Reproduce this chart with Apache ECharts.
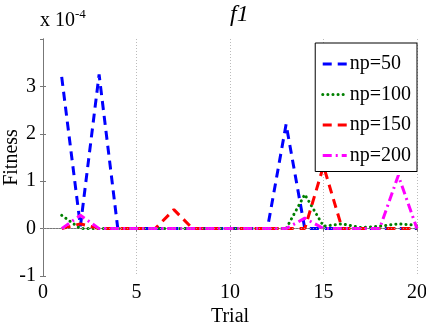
<!DOCTYPE html>
<html>
<head>
<meta charset="utf-8">
<script src="https://cdn.jsdelivr.net/npm/echarts@6/dist/echarts.min.js"></script>
<style>
    html, body { margin: 0; padding: 0; background: #fff; }
    #chart { width: 426px; height: 325px; }
</style>
</head>
<body>
<div id="chart"></div>
<script>
    // trials 1..20, fitness values in units of 1e-4
    var trials = [1, 2, 3, 4, 5, 6, 7, 8, 9, 10, 11, 12, 13, 14, 15, 16, 17, 18, 19, 20];
    var np50 = [3.2, 0.05, 3.25, 0, 0, 0, 0, 0, 0, 0, 0, 0, 2.2, 0, 0, 0, 0, 0, 0, 0];
    var np100 = [0.28, 0, 0, 0, 0, 0, 0, 0, 0, 0, 0, 0, 0, 0.72, 0.05, 0.1, 0.02, 0.05, 0.1, 0.07];
    var np150 = [0, 0.1, 0, 0, 0, 0, 0.4, 0, 0, 0, 0, 0, 0, 0, 1.32, 0, 0, 0, 0, 0];
    var np200 = [0, 0.28, 0, 0, 0, 0, 0, 0, 0, 0, 0, 0, 0, 0.22, 0, 0, 0, 0, 1.12, 0];
    var names = ['np=50', 'np=100', 'np=150', 'np=200'];
    var xTicks = [0, 5, 10, 15, 20];
    var yTicks = [-1, 0, 1, 2, 3];

    var serif = 'Liberation Serif';

    function pairs(vals) {
        return trials.map(function (t, i) { return [t, vals[i]]; });
    }

    function makeSeries(name, vals, color, dash, cap) {
        return {
            name: name,
            type: 'line',
            data: pairs(vals),
            symbol: 'none',
            lineStyle: { color: color, width: 3, type: dash, cap: cap || 'butt' },
            itemStyle: { color: color }
        };
    }

    var chart = echarts.init(document.getElementById('chart'));
    var series = [
        makeSeries(names[0], np50, '#0000ff', [9, 6]),
        makeSeries(names[1], np100, '#008000', [0.1, 5], 'round'),
        makeSeries(names[2], np150, '#ff0000', [9, 6]),
        makeSeries(names[3], np200, '#ff00ff', [9, 4, 2, 4])
    ];
    // zero reference line
    series[0].markLine = {
        silent: true,
        symbol: 'none',
        label: { show: false },
        lineStyle: { color: '#999', width: 1, type: [1, 2] },
        data: [{ yAxis: 0 }]
    };

    var axisBase = {
        axisLine: { show: true, lineStyle: { color: '#777', width: 1 } },
        axisTick: { show: true, inside: true, length: 3, lineStyle: { color: '#777' } },
        axisLabel: { color: '#000', fontFamily: serif, fontSize: 20 }
    };

    chart.setOption({
        animation: false,
        backgroundColor: '#fff',
        grid: { left: 43, right: 9, top: 39, bottom: 49, outerBoundsMode: 'none', containLabel: false },
        title: {
            text: 'f1',
            left: 225,
            top: -2,
            textStyle: { fontFamily: serif, fontStyle: 'italic', fontWeight: 'normal', fontSize: 24, color: '#000' }
        },
        graphic: [{
            type: 'text',
            left: 40,
            top: 8,
            style: {
                text: '{a|x 10}{b|-4}',
                rich: {
                    a: { fontFamily: serif, fontSize: 20, color: '#000', verticalAlign: 'bottom' },
                    b: { fontFamily: serif, fontSize: 13, color: '#000', verticalAlign: 'top', padding: [0, 0, 10, 0] }
                }
            }
        }],
        legend: {
            data: names,
            orient: 'vertical',
            right: 9,
            top: 43,
            width: 105,
            padding: [11, 6, 6, 6],
            itemGap: 10.5,
            itemWidth: 24,
            itemHeight: 14,
            itemStyle: { opacity: 0 },
            lineStyle: { width: 3 },
            backgroundColor: '#fff',
            borderColor: '#000',
            borderWidth: 1,
            borderRadius: 0,
            textStyle: { fontFamily: serif, fontSize: 20, color: '#000', padding: [0, 0, 0, -2] }
        },
        xAxis: [Object.assign({}, axisBase, {
            type: 'value',
            min: xTicks[0],
            max: xTicks[xTicks.length - 1],
            interval: 5,
            name: 'Trial',
            nameLocation: 'middle',
            nameGap: 31,
            nameMoveOverlap: false,
            nameTextStyle: { fontFamily: serif, fontSize: 20, color: '#000' },
            axisLabel: { color: '#000', fontFamily: serif, fontSize: 20, margin: 7 },
            splitLine: { show: true, lineStyle: { color: '#bbb', type: [1, 2] } }
        }), Object.assign({}, axisBase, {
            type: 'value',
            position: 'top',
            min: xTicks[0],
            max: xTicks[xTicks.length - 1],
            interval: 5,
            axisLabel: { show: false },
            splitLine: { show: false }
        })],
        yAxis: [Object.assign({}, axisBase, {
            type: 'value',
            min: yTicks[0],
            max: 4,
            interval: 1,
            name: 'Fitness',
            nameLocation: 'middle',
            nameGap: 21,
            nameMoveOverlap: false,
            nameTextStyle: { fontFamily: serif, fontSize: 20, color: '#000' },
            axisLabel: { color: '#000', fontFamily: serif, fontSize: 20, margin: 7, showMaxLabel: false },
            splitLine: { show: false }
        }), Object.assign({}, axisBase, {
            type: 'value',
            position: 'right',
            min: yTicks[0],
            max: 4,
            interval: 1,
            axisLabel: { show: false },
            splitLine: { show: false }
        })],
        series: series
    });
</script>
</body>
</html>
